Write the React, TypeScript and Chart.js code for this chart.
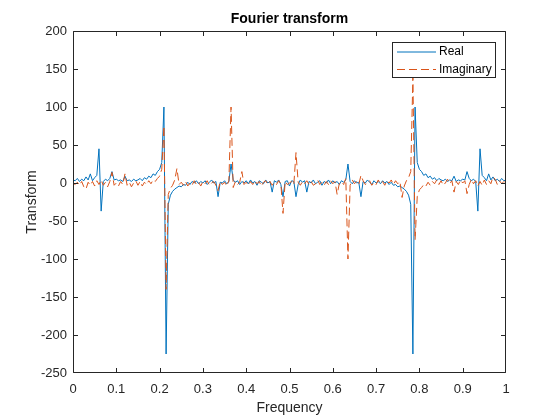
import React, { useEffect, useRef } from "react";
import { Chart, registerables } from "chart.js";

Chart.register(...registerables);

const frequency: number[] = [
  0, 0.005, 0.01, 0.015, 0.02, 0.025, 0.03, 0.035, 0.04, 0.045,
  0.05, 0.055, 0.06, 0.065, 0.07, 0.075, 0.08, 0.085, 0.09, 0.095,
  0.1, 0.105, 0.11, 0.115, 0.12, 0.125, 0.13, 0.135, 0.14, 0.145,
  0.15, 0.155, 0.16, 0.165, 0.17, 0.175, 0.18, 0.185, 0.19, 0.195,
  0.2, 0.205, 0.21, 0.215, 0.22, 0.225, 0.23, 0.235, 0.24, 0.245,
  0.25, 0.255, 0.26, 0.265, 0.27, 0.275, 0.28, 0.285, 0.29, 0.295,
  0.3, 0.305, 0.31, 0.315, 0.32, 0.325, 0.33, 0.335, 0.34, 0.345,
  0.35, 0.355, 0.36, 0.365, 0.37, 0.375, 0.38, 0.385, 0.39, 0.395,
  0.4, 0.405, 0.41, 0.415, 0.42, 0.425, 0.43, 0.435, 0.44, 0.445,
  0.45, 0.455, 0.46, 0.465, 0.47, 0.475, 0.48, 0.485, 0.49, 0.495,
  0.5, 0.505, 0.51, 0.515, 0.52, 0.525, 0.53, 0.535, 0.54, 0.545,
  0.55, 0.555, 0.56, 0.565, 0.57, 0.575, 0.58, 0.585, 0.59, 0.595,
  0.6, 0.605, 0.61, 0.615, 0.62, 0.625, 0.63, 0.635, 0.64, 0.645,
  0.65, 0.655, 0.66, 0.665, 0.67, 0.675, 0.68, 0.685, 0.69, 0.695,
  0.7, 0.705, 0.71, 0.715, 0.72, 0.725, 0.73, 0.735, 0.74, 0.745,
  0.75, 0.755, 0.76, 0.765, 0.77, 0.775, 0.78, 0.785, 0.79, 0.795,
  0.8, 0.805, 0.81, 0.815, 0.82, 0.825, 0.83, 0.835, 0.84, 0.845,
  0.85, 0.855, 0.86, 0.865, 0.87, 0.875, 0.88, 0.885, 0.89, 0.895,
  0.9, 0.905, 0.91, 0.915, 0.92, 0.925, 0.93, 0.935, 0.94, 0.945,
  0.95, 0.955, 0.96, 0.965, 0.97, 0.975, 0.98, 0.985, 0.99, 0.995,
  1,
];

const realPart: number[] = [
  4, 3, 6, 2, 5, 3, 8, 4, 12, 3,
  7, 10, 45, -37, 2, 5, 3, 6, 15, 4,
  5, 3, 4, 2, 9, 3, 4, 2, 5, 3,
  4, 6, 3, 7, 5, 9, 7, 12, 10, 15,
  18, 27, 100, -225, -28, -16, -11, -8, -6, -4,
  -5, -2, -3, 1, -2, 2, 0, 3, -1, 2,
  0, 3, -2, 1, 4, 0, 2, -18, 1, 0,
  3, -1, 2, 25, 4, 1, 3, -2, 2, 0,
  3, -1, 4, 0, 2, -3, 3, 1, -1, 4,
  0, 2, -12, 3, 1, 4, -2, -18, 2, 3,
  -4,
  3, 2, -18, -2, 4, 1, 3, -12, 2, 0,
  4, -1, 1, 3, -3, 2, 0, 4, -1, 3,
  0, 2, -2, 3, 1, 4, 25, 2, -1, 3,
  0, 1, -18, 2, 0, 4, 1, -2, 3, 0,
  2, -1, 3, 0, 2, -2, 1, -3, -2, -5,
  -4, -6, -8, -11, -16, -28, -225, 100, 27, 18,
  15, 10, 12, 7, 9, 5, 7, 3, 6, 4,
  3, 5, 2, 4, 3, 9, 2, 4, 3, 5,
  4, 15, 6, 3, 5, 2, -37, 45, 10, 7,
  3, 12, 4, 8, 3, 5, 2, 6, 3, 4,
];

const imagPart: number[] = [
  0, -2, 1, -3, 2, -5, -8, 1, -3, 2,
  -4, 3, -2, 4, -3, 1, -5, 2, 14, -3,
  0, -4, 2, -2, 12, -3, 1, -5, 0, 3,
  -3, 2, -4, 1, -2, 3, -1, 4, 2, 6,
  9, 18, 75, -140, -15, -7, -3, 4, 19, -2,
  1, -3, 2, -4, 0, -3, 3, -2, 1, -4,
  2, -1, 3, -3, 0, 2, -3, -10, 2, -2,
  1, -4, 3, 100, -6, 2, -2, 1, 15, -2,
  1, -3, 2, -2, 3, -1, 2, -4, 1, 3,
  -2, 2, -3, 1, -2, 3, -1, -40, 2, -2,
  0,
  2, -2, 40, 1, -3, 2, -1, 3, -2, 2,
  -3, -1, 4, -2, 1, -3, 2, -2, 3, -1,
  2, -15, -1, 2, -2, 6, -100, -3, 4, -1,
  2, -2, 10, 3, -2, 0, 3, -3, 1, -2,
  4, -1, 2, -3, 3, 0, 4, -2, 3, -1,
  2, -19, -4, 3, 7, 15, 140, -75, -18, -9,
  -6, -2, -4, 1, -3, 2, -1, 4, -2, 3,
  -3, 0, 5, -1, 3, -12, 2, -2, 4, 0,
  3, -14, -2, 5, -1, 3, -4, 2, -3, 4,
  -2, 3, -1, 8, 5, -2, 3, -1, 2, 0,
];

const xTickValues: number[] = [0, 0.1, 0.2, 0.3, 0.4, 0.5, 0.6, 0.7, 0.8, 0.9, 1];
const xTickLabels: string[] = ["0", "0.1", "0.2", "0.3", "0.4", "0.5", "0.6", "0.7", "0.8", "0.9", "1"];
const yTickValues: number[] = [-250, -200, -150, -100, -50, 0, 50, 100, 150, 200];
const yTickLabels: string[] = ["-250", "-200", "-150", "-100", "-50", "0", "50", "100", "150", "200"];

const seriesNames: string[] = ["Real", "Imaginary"];
const titleText = "Fourier transform";
const xLabelText = "Frequency";
const yLabelText = "Transform";

const BLUE = "#0072BD";
const ORANGE = "#D95319";
const AXIS = "#262626";
const FONT = "'Liberation Sans', Arial, Helvetica, sans-serif";

const decorPlugin = {
  id: "decor",
  afterDraw(chart: any) {
    const { ctx, chartArea: a, scales } = chart;
    const xs = scales.x;
    const ys = scales.y;
    ctx.save();
    ctx.strokeStyle = AXIS;
    ctx.lineWidth = 1;
    ctx.setLineDash([]);
    const L = Math.round(a.left) + 0.5;
    const R = Math.round(a.right) - 0.5;
    const T = Math.round(a.top) + 0.5;
    const B = Math.round(a.bottom) - 0.5;
    ctx.beginPath();
    ctx.rect(L, T, R - L, B - T);
    ctx.stroke();
    const tl = 4.5;
    const clamp = (v: number, lo: number, hi: number) => Math.min(hi, Math.max(lo, v));
    ctx.beginPath();
    xTickValues.forEach((v) => {
      const px = clamp(Math.round(xs.getPixelForValue(v)) + 0.5, L, R);
      ctx.moveTo(px, B);
      ctx.lineTo(px, B - tl);
      ctx.moveTo(px, T);
      ctx.lineTo(px, T + tl);
    });
    yTickValues.forEach((v) => {
      const py = clamp(Math.round(ys.getPixelForValue(v)) + 0.5, T, B);
      ctx.moveTo(L, py);
      ctx.lineTo(L + tl, py);
      ctx.moveTo(R, py);
      ctx.lineTo(R - tl, py);
    });
    ctx.stroke();

    const cx = (a.left + a.right) / 2;
    const cy = (a.top + a.bottom) / 2;
    ctx.fillStyle = "#000";
    ctx.textAlign = "center";
    ctx.textBaseline = "middle";
    ctx.font = `bold 14px ${FONT}`;
    ctx.fillText(titleText, cx, 19);
    ctx.fillStyle = AXIS;
    ctx.font = `14px ${FONT}`;
    ctx.fillText(xLabelText, cx, 408);
    ctx.save();
    ctx.translate(32, cy);
    ctx.rotate(-Math.PI / 2);
    ctx.fillText(yLabelText, 0, 0);
    ctx.restore();

    // legend
    const lx = 392.5, ly = 42.5, lw = 103, lh = 35;
    ctx.fillStyle = "#fff";
    ctx.fillRect(lx, ly, lw, lh);
    ctx.strokeStyle = AXIS;
    ctx.lineWidth = 1;
    ctx.strokeRect(lx, ly, lw, lh);
    const rows = [52, 69.5];
    const colors = [BLUE, ORANGE];
    const dashes = [[], [8, 4]];
    rows.forEach((ry, i) => {
      ctx.strokeStyle = colors[i];
      ctx.setLineDash(dashes[i]);
      ctx.beginPath();
      ctx.moveTo(397, ry);
      ctx.lineTo(436, ry);
      ctx.stroke();
      ctx.setLineDash([]);
      ctx.fillStyle = "#000";
      ctx.textAlign = "left";
      ctx.textBaseline = "middle";
      ctx.font = `12px ${FONT}`;
      ctx.fillText(seriesNames[i], 439, ry);
    });
    ctx.restore();
  },
};

export default function App() {
  const ref = useRef<HTMLCanvasElement | null>(null);
  useEffect(() => {
    if (!ref.current) return;
    const realPts = frequency.map((f, i) => ({ x: f, y: realPart[i] }));
    const imagPts = frequency.map((f, i) => ({ x: f, y: imagPart[i] }));
    const chart = new Chart(ref.current, {
      type: "line",
      data: {
        datasets: [
          {
            label: seriesNames[0],
            data: realPts,
            borderColor: BLUE,
            borderWidth: 1,
            pointRadius: 0,
            tension: 0,
            fill: false,
            order: 1,
          },
          {
            label: seriesNames[1],
            data: imagPts,
            borderColor: ORANGE,
            borderWidth: 1,
            borderDash: [8, 4],
            pointRadius: 0,
            tension: 0,
            fill: false,
            order: 0,
          },
        ],
      },
      options: {
        responsive: false,
        animation: false,
        events: [],
        layout: { padding: { top: 31, right: 54, left: 0, bottom: 0 } },
        plugins: {
          legend: { display: false },
          title: { display: false },
          tooltip: { enabled: false },
        },
        scales: {
          x: {
            type: "linear",
            min: 0,
            max: 1,
            grid: { display: false, drawTicks: false },
            border: { display: false },
            afterBuildTicks: (s: any) => {
              s.ticks = xTickValues.map((v) => ({ value: v }));
            },
            afterFit: (s: any) => {
              s.height = 47;
            },
            ticks: {
              autoSkip: false,
              maxRotation: 0,
              padding: 9,
              color: AXIS,
              font: { family: FONT, size: 13 },
              callback: (_v: any, i: number) => xTickLabels[i],
            },
          },
          y: {
            type: "linear",
            min: -250,
            max: 200,
            grid: { display: false, drawTicks: false },
            border: { display: false },
            afterBuildTicks: (s: any) => {
              s.ticks = yTickValues.map((v) => ({ value: v }));
            },
            afterFit: (s: any) => {
              s.width = 73;
            },
            ticks: {
              autoSkip: false,
              padding: 6,
              color: AXIS,
              font: { family: FONT, size: 13 },
              callback: (_v: any, i: number) => yTickLabels[i],
            },
          },
        },
      },
      plugins: [decorPlugin],
    });
    return () => chart.destroy();
  }, []);
  return (
    <div style={{ position: "fixed", left: 0, top: 0, width: 560, height: 420, background: "#fff" }}>
      <canvas ref={ref} width={560} height={420} style={{ width: 560, height: 420, display: "block" }} />
    </div>
  );
}
